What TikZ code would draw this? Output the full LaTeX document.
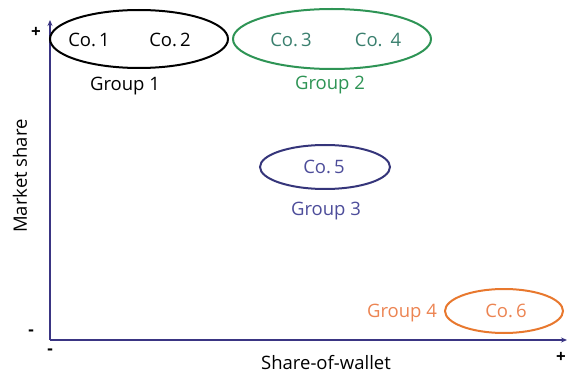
\documentclass[tikz,border=0pt]{standalone}
\usepackage{fontspec}
\setmainfont{Open Sans}
\usetikzlibrary{shapes.geometric,arrows.meta}
\definecolor{axisc}{HTML}{3A3583}
\definecolor{grn}{HTML}{2E9455}
\definecolor{grntxt}{HTML}{3A7F6E}
\definecolor{nav}{HTML}{35357A}
\definecolor{navtxt}{HTML}{4D4D9A}
\definecolor{org}{HTML}{E8782E}
\definecolor{orgtxt}{HTML}{EC8452}
\begin{document}
\begin{tikzpicture}[x=1pt,y=-1pt,
  lbl/.style={font=\fontsize{18.5}{20}\selectfont, inner sep=0pt},
  sgn/.style={font=\bfseries\fontsize{17}{18}\selectfont, inner sep=0pt}]
\useasboundingbox (0,0) rectangle (568,377);
% axes
\coordinate (O) at (50,340);
\coordinate (Ytop) at (50,20);
\coordinate (Xend) at (567,340);
\draw[axisc, line width=1.6pt, -{Stealth[length=6pt,width=5pt]}] (O) -- (Ytop);
\draw[axisc, line width=1.6pt, -{Stealth[length=6pt,width=5pt]}] (O) -- (Xend);
\node[sgn] (yp) at (36,32) {+};
\node[sgn] (ym) at (31,333) {-};
\node[sgn] (xm) at (50,352) {-};
\node[sgn] (xp) at (561,357) {+};
\node[lbl, rotate=90] (ylab) at (20,176) {Market share};
\node[lbl] (xlab) at (326,363) {Share-of-wallet};
% group 1
\draw[black, line width=2pt] (139,39) ellipse [x radius=89, y radius=29];
\node[lbl] (c1) at (89,40) {Co.\,1};
\node[lbl] (c2) at (170,40) {Co.\,2};
\node[lbl] (g1) at (125,86) {Group 1};
% group 2
\draw[grn, line width=2pt] (332,39) ellipse [x radius=99, y radius=30];
\node[lbl, text=grntxt] (c3) at (291,40) {Co.\,3};
\node[lbl, text=grntxt] (c4) at (378,40) {Co.\ \,4};
\node[lbl, text=grn] (g2) at (330,85) {Group 2};
% group 3
\draw[nav, line width=2pt] (325,167) ellipse [x radius=65, y radius=22];
\node[lbl, text=navtxt] (c5) at (324,167) {Co.\,5};
\node[lbl, text=navtxt] (g3) at (326,211) {Group 3};
% group 4
\draw[org, line width=2pt] (504,311) ellipse [x radius=59, y radius=22];
\node[lbl, text=orgtxt] (c6) at (506,311) {Co.\,6};
\node[lbl, text=orgtxt] (g4) at (402,313) {Group 4};
\end{tikzpicture}
\end{document}
